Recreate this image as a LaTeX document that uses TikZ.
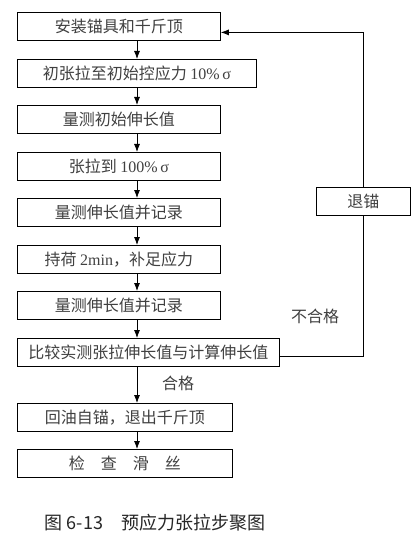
\documentclass[tikz,border=0pt]{standalone}
\usepackage{fontspec}
\setmainfont{Liberation Serif}
\newfontfamily\cjk{Noto Sans CJK SC}
\usetikzlibrary{arrows.meta, positioning}

\tikzset{
  stepbox/.style={draw=black, line width=0.8pt, anchor=north west, minimum height=28pt,
    inner sep=0pt, text=black!75, font=\fontsize{16}{19}\selectfont\cjk},
  flow/.style={line width=0.8pt, -{Latex[length=8pt,width=6pt]}},
  loopline/.style={line width=0.8pt},
  tag/.style={text=black!75, font=\fontsize{16}{19}\selectfont\cjk},
}

\begin{document}
\begin{tikzpicture}[x=1pt, y=-1pt]
  \path[fill=white] (0,0) rectangle (417,540);
  \useasboundingbox (0,0) rectangle (417,540);
  % Steps
  \node[stepbox, minimum width=203pt] (install) at (17,12) {安装锚具和千斤顶};
  \node[stepbox, minimum width=239pt] (pretension) at (17,59) {初张拉至初始控应力 {\rmfamily 10\%\,σ}};
  \node[stepbox, minimum width=203pt] (initial) at (17,105) {量测初始伸长值};
  \node[stepbox, minimum width=203pt] (tension) at (17,152) {张拉到 {\rmfamily 100\%\,σ}};
  \node[stepbox, minimum width=203pt] (measurea) at (17,198) {量测伸长值并记录};
  \node[stepbox, minimum width=203pt] (hold) at (17,245) {持荷 {\rmfamily 2min}，补足应力};
  \node[stepbox, minimum width=203pt] (measureb) at (17,291) {量测伸长值并记录};
  \node[stepbox, minimum width=262pt] (compare) at (17,338) {比较实测张拉伸长值与计算伸长值};
  \node[stepbox, minimum width=215pt] (release) at (17,403) {回油自锚，退出千斤顶};
  \node[stepbox, minimum width=215pt] (check) at (17,449) {检\hspace{16pt}查\hspace{16pt}滑\hspace{16pt}丝};
  % Retreat
  \node[stepbox, minimum width=94pt] (unanchor) at (316,187) {退锚};
  % Arrows down the left column
  \coordinate (spine) at (137,0);
  \foreach \a/\b in {install/pretension, pretension/initial, initial/tension,
    tension/measurea, measurea/hold, hold/measureb, measureb/compare,
    compare/release, release/check}
    \draw[flow] (\a.south -| spine) -- (\b.north -| spine);
  % Loop back
  \draw[loopline] ([yshift=-4pt]compare.east) -| (unanchor.south);
  \draw[flow] (unanchor.north) |- ([yshift=-6pt]install.east);
  \node[tag] (fail) at (315,316) {不合格};
  \node[tag] (pass) at (178,383) {合格};
  % Caption
  \node[text=black!85, font=\fontsize{18}{20}\selectfont\cjk] (caption) at (155,523) {图 6-13　预应力张拉步聚图};
\end{tikzpicture}
\end{document}
